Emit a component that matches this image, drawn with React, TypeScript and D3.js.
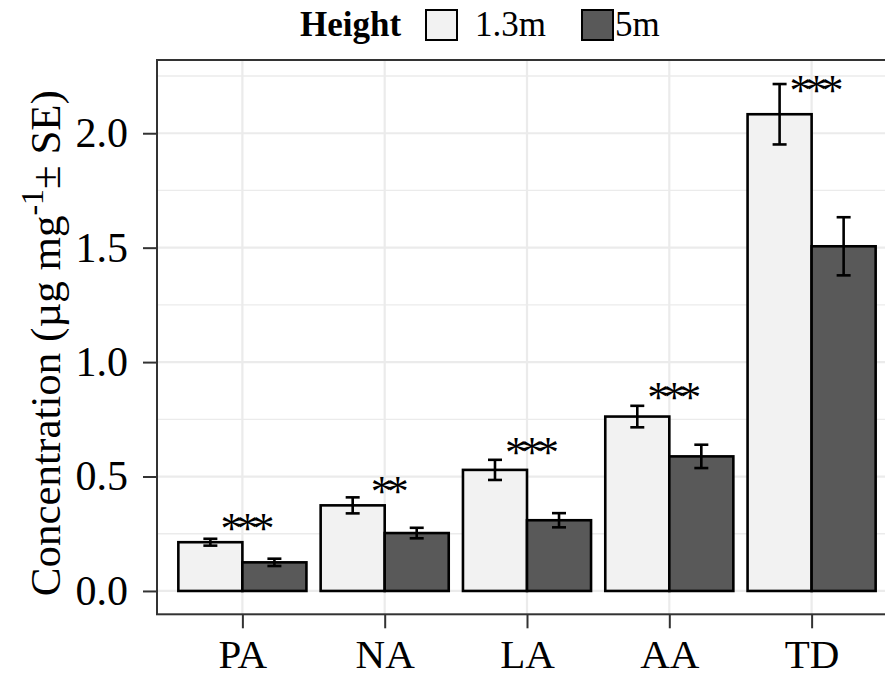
import React, { useEffect, useRef } from "react";
import * as d3 from "d3";

// values (µg mg-1, mean ± SE)
const categories = ["PA", "NA", "LA", "AA", "TD"];
const heights = ["1.3m", "5m"];
const mean13 = [0.213, 0.374, 0.529, 0.762, 2.083];
const se13 = [0.015, 0.035, 0.044, 0.047, 0.132];
const mean5 = [0.125, 0.253, 0.309, 0.588, 1.506];
const se5 = [0.016, 0.023, 0.031, 0.051, 0.127];
const sigLabels = ["***", "**", "***", "***", "***"];
const sigY = [0.31, 0.47, 0.64, 0.88, 2.225];
const yTicks = [0, 0.5, 1, 1.5, 2];
const yMinor = [0.25, 0.75, 1.25, 1.75, 2.25];

const W = 885, H = 681;
const FONT = "'Liberation Serif', 'Times New Roman', serif";
const FILLS = ["#f2f2f2", "#595959"];

const App = () => {
  const svgRef = useRef(null);

  useEffect(() => {
    const svg = d3.select(svgRef.current);
    svg.selectAll("*").remove();

    const left = 157, top = 60, bottom = 614.3, right = 897;
    // discrete axis like ggplot: positions 1..n with 0.6 expansion
    const x = d3.scaleLinear().domain([0.4, categories.length + 0.6]).range([left, right]);
    const y = d3.scaleLinear().domain([-0.102, 2.32]).range([bottom, top]);
    const bw = 0.45;

    const rows = categories.map((c, i) => ({
      cat: c, i,
      vals: [
        { h: heights[0], m: mean13[i], se: se13[i], k: 0 },
        { h: heights[1], m: mean5[i], se: se5[i], k: 1 },
      ],
    }));

    const panel = svg.append("g");
    panel.append("rect").attr("x", left).attr("y", top)
      .attr("width", right - left).attr("height", bottom - top).attr("fill", "#fff");

    panel.selectAll("line.minor").data(yMinor).enter().append("line")
      .attr("x1", left).attr("x2", right)
      .attr("y1", d => y(d)).attr("y2", d => y(d))
      .attr("stroke", "#ebebeb").attr("stroke-width", 1.3);
    panel.selectAll("line.major").data(yTicks).enter().append("line")
      .attr("x1", left).attr("x2", right)
      .attr("y1", d => y(d)).attr("y2", d => y(d))
      .attr("stroke", "#ebebeb").attr("stroke-width", 2.2);
    panel.selectAll("line.vmajor").data(categories).enter().append("line")
      .attr("x1", (_, i) => x(i + 1)).attr("x2", (_, i) => x(i + 1))
      .attr("y1", top).attr("y2", bottom)
      .attr("stroke", "#ebebeb").attr("stroke-width", 2.2);

    const grp = panel.selectAll("g.cat").data(rows).enter().append("g");

    grp.selectAll("rect").data(d => d.vals.map(v => ({ ...v, i: d.i }))).enter().append("rect")
      .attr("x", d => x(d.i + 1 - bw + d.k * bw))
      .attr("width", d => x(bw) - x(0))
      .attr("y", d => y(d.m))
      .attr("height", d => y(0) - y(d.m))
      .attr("fill", d => FILLS[d.k])
      .attr("stroke", "#000").attr("stroke-width", 2.6);

    const eb = grp.selectAll("g.err").data(d => d.vals.map(v => ({ ...v, i: d.i }))).enter().append("g")
      .attr("stroke", "#000").attr("stroke-width", 2.6);
    const cx = d => x(d.i + 1 - bw / 2 + d.k * bw);
    eb.append("line").attr("x1", cx).attr("x2", cx)
      .attr("y1", d => y(d.m - d.se)).attr("y2", d => y(d.m + d.se));
    eb.append("line").attr("x1", d => cx(d) - 7).attr("x2", d => cx(d) + 7)
      .attr("y1", d => y(d.m + d.se)).attr("y2", d => y(d.m + d.se));
    eb.append("line").attr("x1", d => cx(d) - 7).attr("x2", d => cx(d) + 7)
      .attr("y1", d => y(d.m - d.se)).attr("y2", d => y(d.m - d.se));

    const sigSize = 44;
    panel.selectAll("text.sig").data(sigLabels).enter().append("text")
      .attr("x", (_, i) => x(i + 1) + 2)
      .attr("y", (_, i) => y(sigY[i]) + sigSize * 0.52)
      .attr("text-anchor", "middle")
      .attr("letter-spacing", -6)
      .attr("font-family", FONT).attr("font-size", sigSize)
      .text(d => d);

    // panel border
    svg.append("rect").attr("x", left).attr("y", top)
      .attr("width", right - left).attr("height", bottom - top)
      .attr("fill", "none").attr("stroke", "#333").attr("stroke-width", 2);

    // y axis
    const yAxis = svg.append("g").attr("transform", `translate(${left},0)`)
      .call(d3.axisLeft(y).tickValues(yTicks).tickFormat(d3.format(".1f")).tickSize(14).tickPadding(15));
    yAxis.select(".domain").remove();
    yAxis.selectAll("line").attr("stroke", "#333").attr("stroke-width", 2);
    yAxis.selectAll("text").attr("font-family", FONT).attr("font-size", 42).attr("fill", "#000");

    // x axis
    const xAxis = svg.append("g").attr("transform", `translate(0,${bottom})`)
      .call(d3.axisBottom(x).tickValues(categories.map((_, i) => i + 1))
        .tickFormat((_, i) => categories[i]).tickSize(14).tickPadding(11));
    xAxis.select(".domain").remove();
    xAxis.selectAll("line").attr("stroke", "#333").attr("stroke-width", 2);
    xAxis.selectAll("text").attr("font-family", FONT).attr("font-size", 41).attr("fill", "#000");

    // y title
    const yt = svg.append("text")
      .attr("transform", `translate(60,${(top + bottom) / 2 + 6}) rotate(-90)`)
      .attr("text-anchor", "middle")
      .attr("font-family", FONT).attr("font-size", 43).attr("fill", "#000");
    yt.append("tspan").text("Concentration (µg mg");
    yt.append("tspan").attr("dy", -17).attr("font-size", 32).text("-1");
    yt.append("tspan").attr("dy", 17).text("± SE)");

    // legend
    const lg = svg.append("g").attr("font-family", FONT).attr("font-size", 35);
    lg.append("text").attr("x", 300).attr("y", 36).attr("font-weight", "bold").text("Height");
    const keyX = [426, 582];
    const labX = [475, 615];
    heights.forEach((h, k) => {
      lg.append("rect").attr("x", keyX[k]).attr("y", 10).attr("width", 31).attr("height", 30)
        .attr("fill", FILLS[k]).attr("stroke", "#000").attr("stroke-width", 2);
      lg.append("text").attr("x", labX[k]).attr("y", 36).text(h);
    });
  }, []);

  return (
    <svg ref={svgRef} width={W} height={H}
      style={{ position: "absolute", left: 0, top: 0, background: "#fff" }} />
  );
};

export default App;
